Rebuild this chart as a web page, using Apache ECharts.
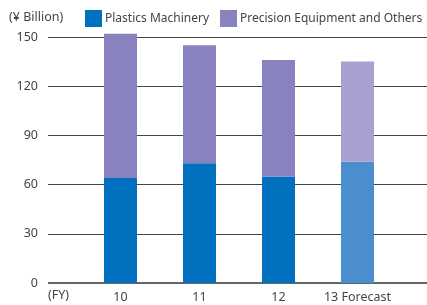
<!DOCTYPE html>
<html><head><meta charset="utf-8">
<script src="https://cdn.jsdelivr.net/npm/echarts@6/dist/echarts.min.js"></script>
<style>html,body{margin:0;padding:0;background:#fff}#c{width:427px;height:305px}</style>
</head><body><div id="c"></div>
<script>
var categories = ['10', '11', '12', '13 Forecast'];
var plastics = [64, 73, 65, 74];
var precision = [88, 72, 71, 61];
var yTicks = [0, 30, 60, 90, 120, 150];
var seriesNames = ['Plastics Machinery', 'Precision Equipment and Others'];
var unitLabel = '(¥ Billion)';
var fyLabel = '(FY)';

var FONT = '"Noto Sans", sans-serif';
var blue = '#0070bf', blueF = '#4a8ecd', purple = '#8883be', purpleF = '#a7a1d2';
var chart = echarts.init(document.getElementById('c'), null, {renderer: 'canvas'});
function colored(vals, c, cf) {
  return vals.map(function (v, i) {
    return {value: v, itemStyle: {color: i === vals.length - 1 ? cf : c}};
  });
}
function legendFor(name, left) {
  return {
    data: [name], left: left, top: 10, itemWidth: 17, itemHeight: 17,
    padding: 0, icon: 'rect',
    textStyle: {fontFamily: FONT, fontSize: 12, color: '#444', padding: [0, 0, 0, -2]}
  };
}
chart.setOption({
  animation: false,
  textStyle: {fontFamily: FONT},
  legend: [legendFor(seriesNames[0], 85), legendFor(seriesNames[1], 220)],
  graphic: [
    {type: 'text', left: 9, top: 11, style: {text: unitLabel, font: '12.5px ' + FONT, fill: '#444'}},
    {type: 'text', left: 48, top: 289, style: {text: fyLabel, font: '12.5px ' + FONT, fill: '#444'}}
  ],
  grid: [
    {left: 48, right: 0, top: 37, bottom: 22},
    {left: 81, width: 316, top: 37, bottom: 22}
  ],
  xAxis: [
    {gridIndex: 0, type: 'category', data: categories, show: false},
    {gridIndex: 1, type: 'category', data: categories,
     axisLine: {show: false}, axisTick: {show: false},
     axisLabel: {interval: 0, fontFamily: FONT, fontSize: 12.5, color: '#444', margin: 8}}
  ],
  yAxis: [
    {gridIndex: 0, type: 'value', min: 0, max: 150, interval: 30,
     axisLine: {show: false}, axisTick: {show: false},
     axisLabel: {fontFamily: FONT, fontSize: 12.5, color: '#444', margin: 10,
       formatter: function (v) { return yTicks.indexOf(v) >= 0 ? String(v) : ''; }},
     splitLine: {show: true, lineStyle: {color: '#444', width: 1}}},
    {gridIndex: 1, type: 'value', min: 0, max: 150, interval: 30, show: false, splitLine: {show: false}}
  ],
  series: [
    {type: 'line', xAxisIndex: 0, yAxisIndex: 0, data: [], silent: true,
     markLine: {symbol: 'none', silent: true, label: {show: false},
       lineStyle: {color: '#666', width: 2, type: 'solid'}, data: [{yAxis: 0}]}},
    {name: seriesNames[0], type: 'bar', stack: 'a', xAxisIndex: 1, yAxisIndex: 1, clip: false,
     barWidth: 33, itemStyle: {color: blue}, data: colored(plastics, blue, blueF), z: 5},
    {name: seriesNames[1], type: 'bar', stack: 'a', xAxisIndex: 1, yAxisIndex: 1, clip: false,
     barWidth: 33, itemStyle: {color: purple}, data: colored(precision, purple, purpleF), z: 5}
  ]
});
</script></body></html>
